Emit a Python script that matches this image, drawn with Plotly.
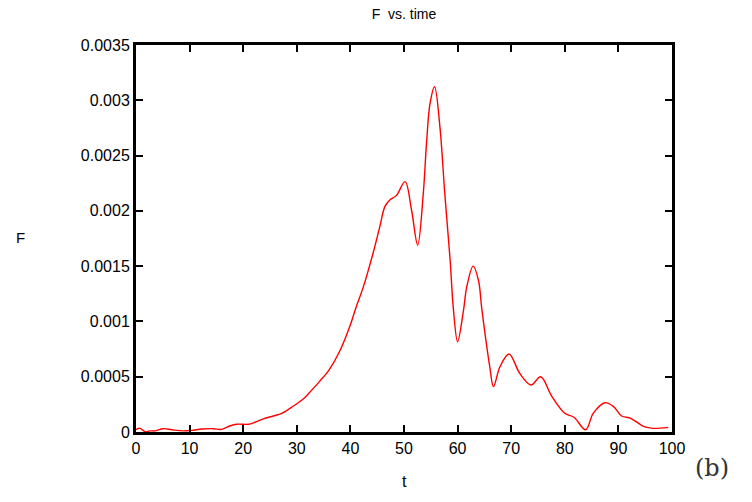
import plotly.graph_objects as go

t = [0, 0.75, 1.7, 2.6, 3.5, 5.1, 6.7, 8.8, 10.4, 12.3, 14.4, 16.0, 17.5, 18.8, 21.0, 22.2,
     23.75, 25.6, 27.2, 29.35, 31.2, 32.8, 34.3, 36.0, 38.0, 40.0, 41.0, 42.4, 44.3, 45.5,
     46.45, 47.4, 48.6, 50.2, 51.4, 52.55, 53.6, 54.2, 54.85, 55.7, 56.7, 57.6, 58.6, 59.2,
     60.0, 61.1, 61.7, 62.9, 63.9, 64.5, 66.0, 66.7, 67.9, 69.6, 71.6, 73.7, 75.5, 77.6,
     80.0, 81.7, 83.9, 85.3, 87.5, 89.1, 90.6, 92.3, 94.8, 96.5, 99.3]
F = [0.000022, 0.000033, 0.000002, 0.00001, 0.00001, 0.00003, 0.00002, 0.00001, 0.000015,
     0.000027, 0.00003, 0.000024, 0.000054, 0.00007, 0.00007, 0.000088, 0.000118, 0.000145,
     0.000169, 0.000235, 0.000298, 0.00038, 0.00046, 0.00056, 0.00073, 0.00097, 0.00112,
     0.00131, 0.00163, 0.00186, 0.00204, 0.0021, 0.00214, 0.002264, 0.00201, 0.00169, 0.00216,
     0.00261, 0.00297, 0.003123, 0.00276, 0.00216, 0.00156, 0.00112, 0.000817, 0.0011,
     0.00131, 0.0015, 0.00137, 0.00112, 0.00059, 0.00041, 0.00059, 0.000705, 0.00053,
     0.000425, 0.0005, 0.00032, 0.000169, 0.000133, 0.00002, 0.000169, 0.000265, 0.00023,
     0.000145, 0.000124, 0.000048, 0.000033, 0.000042]

x_ticks = [0, 10, 20, 30, 40, 50, 60, 70, 80, 90, 100]
y_ticks = [0, 0.0005, 0.001, 0.0015, 0.002, 0.0025, 0.003, 0.0035]
y_labels = ["0", "0.0005", "0.001", "0.0015", "0.002", "0.0025", "0.003", "0.0035"]

fig = go.Figure()
fig.add_trace(go.Scatter(x=t, y=F, mode="lines",
                         line=dict(color="#ff0000", width=1.4, shape="spline", smoothing=1.0),
                         showlegend=False, hoverinfo="skip"))

axis_common = dict(showline=True, linewidth=3, linecolor="black", mirror="ticks",
                   ticks="inside", ticklen=7, tickwidth=2, tickcolor="black",
                   showgrid=False, zeroline=False,
                   tickfont=dict(family="Liberation Sans, Arial, sans-serif", size=16, color="black"))

fig.update_xaxes(range=[0, 100], tickvals=x_ticks, **axis_common)
fig.update_yaxes(range=[0, 0.0035], tickvals=y_ticks, ticktext=y_labels, **axis_common)

fig.update_layout(
    width=752, height=502,
    margin=dict(l=136, r=80, t=45, b=70),
    plot_bgcolor="white", paper_bgcolor="white",
    title=dict(text="F\u00a0\u00a0vs. time", x=404/752, xanchor="center", y=1-14/502, yanchor="middle",
               font=dict(family="Liberation Sans, Arial, sans-serif", size=14, color="black")),
    annotations=[
        dict(text="F", xref="paper", yref="paper", x=-116/536, y=(432-237)/387,
             xanchor="center", yanchor="middle", showarrow=False,
             font=dict(family="Liberation Sans, Arial, sans-serif", size=15, color="black")),
        dict(text="t", xref="paper", yref="paper", x=0.5, y=-(481-432)/387,
             xanchor="center", yanchor="middle", showarrow=False,
             font=dict(family="Liberation Sans, Arial, sans-serif", size=16, color="black")),
        dict(text="(b)", xref="paper", yref="paper", x=(712-136)/536, y=-(468-432)/387,
             xanchor="center", yanchor="middle", showarrow=False,
             font=dict(family="DejaVu Serif, Liberation Serif, serif", size=24, color="#333333")),
    ],
)

fig.write_html("out.html", config={"displayModeBar": False, "staticPlot": True})
with open("out.html", "r", encoding="utf-8") as fh:
    html = fh.read()
html = html.replace("<body>", '<body style="margin:0;padding:0;overflow:hidden">', 1)
with open("out.html", "w", encoding="utf-8") as fh:
    fh.write(html)
